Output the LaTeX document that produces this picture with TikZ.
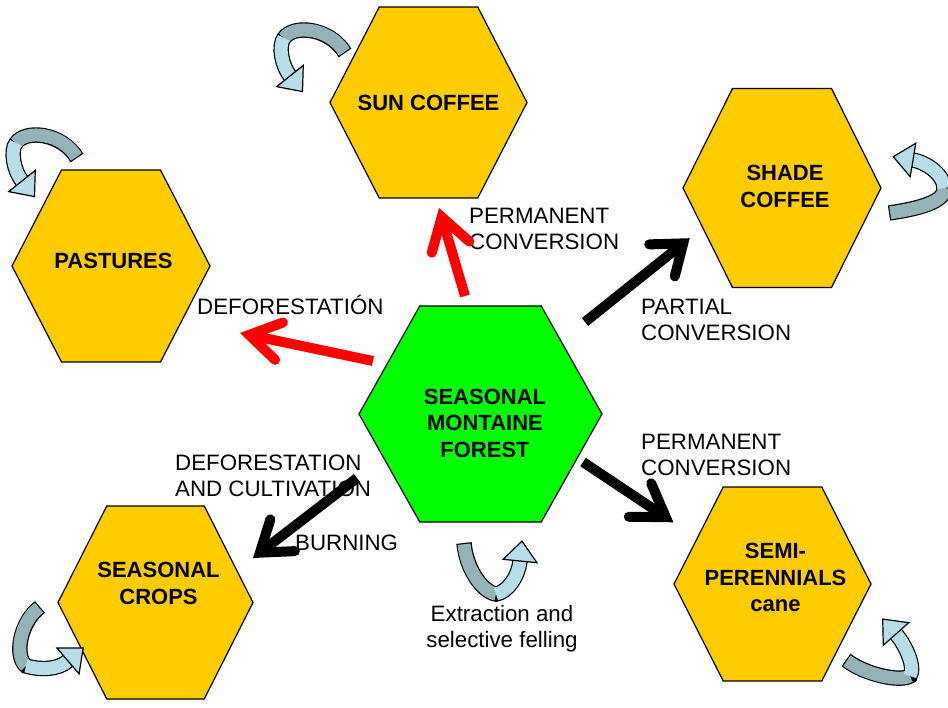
\documentclass[tikz,border=0pt]{standalone}
\usepackage{fontspec}
\setmainfont{Liberation Sans}
\usetikzlibrary{calc}
\definecolor{hexgold}{HTML}{FFCC00}
\definecolor{hexgreen}{HTML}{00FF00}
\definecolor{cycdark}{HTML}{93B3B8}
\definecolor{cyclight}{HTML}{B7DEE8}
\tikzset{
  hexbox/.style={draw=black, line width=1.2, line join=miter},
  hexlabel/.style={font=\fontsize{22}{26.5}\selectfont\bfseries, align=center, inner sep=0pt},
  lbl/.style={font=\fontsize{22.3}{26}\selectfont, align=left, inner sep=0pt},
  redarr/.style={draw=red, line width=10},
  blkarr/.style={draw=black, line width=10},
  cycout/.style={draw=black, line width=15.4},
  cycd/.style={draw=cycdark, line width=13, shorten <=1.2pt},
  cycl/.style={draw=cyclight, line width=13},
  cychd/.style={fill=cyclight, draw=black, line width=1.2, line join=miter},
}
\newcommand{\fatarrow}[5]{%
  \draw[#1, line cap=butt] (#2) -- (#3);
  \draw[#1, line cap=round, line join=miter] ($(#3)!#5!#4:(#2)$) -- (#3) -- ($(#3)!#5!-#4:(#2)$);
}
% #1 tail, #2 first control (rel. to tail), #3 control (rel. to mid), #4 mid,
% #5 control (rel. to mid), #6 named end control, #7 end
\newcommand{\cycarrow}[7]{%
  \draw[cycout] (#1) .. controls +#2 and +#3 .. (#4) .. controls +#5 and (#6) .. (#7);
  \draw[cycd] (#1) .. controls +#2 and +#3 .. (#4);
  \draw[cycl] (#4) .. controls +#5 and (#6) .. (#7);
  \filldraw[cychd] ($(#7)!17pt!90:(#6)$) -- ($(#7)!20pt!180:(#6)$) -- ($(#7)!17pt!-90:(#6)$) -- cycle;
}
\begin{document}
\begin{tikzpicture}[x=1pt,y=-1pt]
\useasboundingbox (0,0) rectangle (948,708);
% hexagon centres
\coordinate (csun) at (428.5,102.5);
\coordinate (cpast) at (111,266);
\coordinate (cshade) at (782,188);
\coordinate (cforest) at (480.5,414);
\coordinate (ccrops) at (155.5,602.5);
\coordinate (csemi) at (772.5,584);
\foreach \c/\w/\h/\col in {csun/98.5/95.5/hexgold, cpast/99/96/hexgold, cshade/99/99.5/hexgold, cforest/121.5/108/hexgreen, ccrops/97.5/96.5/hexgold, csemi/98.5/97/hexgold}
  \filldraw[hexbox, fill=\col, shift={(\c)}] (-\w,0) -- (-\w/2,-\h) -- (\w/2,-\h) -- (\w,0) -- (\w/2,\h) -- (-\w/2,\h) -- cycle;
% hexagon texts
\node[hexlabel] (sun) at (428.5,102.5) {SUN COFFEE};
\node[hexlabel] (past) at (113.5,260.5) {PASTURES};
\node[hexlabel] (shade) at (785,186.5) {SHADE\\COFFEE};
\node[hexlabel] (forest) at (485,423) {SEASONAL\\MONTAINE\\FOREST};
\node[hexlabel] (crops) at (158.5,583.5) {SEASONAL\\CROPS};
\node[hexlabel] (semi) at (775.5,577.5) {SEMI-\\PERENNIALS\\cane};
% labels
\node[lbl, anchor=west] (lpc1) at (469,229) {PERMANENT\\CONVERSION};
\node[lbl, anchor=base west] (ldef) at (197,315) {DEFORESTATIÓN};
\node[lbl, anchor=west] (lpart) at (641,320) {PARTIAL\\CONVERSION};
\node[lbl, anchor=west] (lpc2) at (641,455) {PERMANENT\\CONVERSION};
\node[lbl, anchor=west] (ldc) at (175,476) {DEFORESTATION\\AND CULTIVATION};
\node[lbl, anchor=base west] (lburn) at (295,550) {BURNING};
\node[lbl, align=center] (lext) at (502,629) {Extraction and\\selective felling};
% straight arrows
\coordinate (r1t) at (373,361); \coordinate (r1h) at (249.2,334.9);
\coordinate (r2t) at (465,296); \coordinate (r2h) at (441.7,217);
\coordinate (b1t) at (585,322); \coordinate (b1h) at (683.2,243.4);
\coordinate (b2t) at (583,462); \coordinate (b2h) at (665.8,517.2);
\coordinate (b3t) at (357,478); \coordinate (b3h) at (259.9,552.7);
\fatarrow{redarr}{r1t}{r1h}{32}{36pt}
\fatarrow{redarr}{r2t}{r2h}{32}{37pt}
\fatarrow{blkarr}{b1t}{b1h}{37}{34pt}
\fatarrow{blkarr}{b2t}{b2h}{33}{37pt}
\fatarrow{blkarr}{b3t}{b3h}{35}{35pt}
% cyclic arrows: tail, mid, end and end control points
\coordinate (c1t) at (345,53); \coordinate (c1m) at (284,38); \coordinate (c1e) at (290,76); \coordinate (c1k) at ($(c1e)+(-8,-10)$);
\coordinate (c2t) at (77,158); \coordinate (c2m) at (16,143); \coordinate (c2e) at (22,181); \coordinate (c2k) at ($(c2e)+(-8,-10)$);
\coordinate (c3t) at (889,213); \coordinate (c3m) at (944,188); \coordinate (c3e) at (913,160); \coordinate (c3k) at ($(c3e)+(12,2)$);
\coordinate (c4t) at (40,607); \coordinate (c4m) at (26,666); \coordinate (c4e) at (68,661); \coordinate (c4k) at ($(c4e)+(-10.5,9)$);
\coordinate (c5t) at (846,660); \coordinate (c5m) at (910,676); \coordinate (c5e) at (896,634); \coordinate (c5k) at ($(c5e)+(8,9)$);
\coordinate (c6t) at (464,543); \coordinate (c6m) at (496,594); \coordinate (c6e) at (520,561); \coordinate (c6k) at ($(c6e)+(-1.5,15)$);
\cycarrow{c1t}{(-15,-25)}{(10,-14)}{c1m}{(-6,8)}{c1k}{c1e}
\cycarrow{c2t}{(-15,-25)}{(10,-14)}{c2m}{(-6,8)}{c2k}{c2e}
\cycarrow{c3t}{(28,-4)}{(2,14)}{c3m}{(0,-14)}{c3k}{c3e}
\cycarrow{c4t}{(-20,15)}{(-12,-10)}{c4m}{(14,4)}{c4k}{c4e}
\cycarrow{c5t}{(20,15)}{(-10,6)}{c5m}{(6,-10)}{c5k}{c5e}
\cycarrow{c6t}{(2,25)}{(-14,-2)}{c6m}{(12,-2)}{c6k}{c6e}
\end{tikzpicture}
\end{document}
